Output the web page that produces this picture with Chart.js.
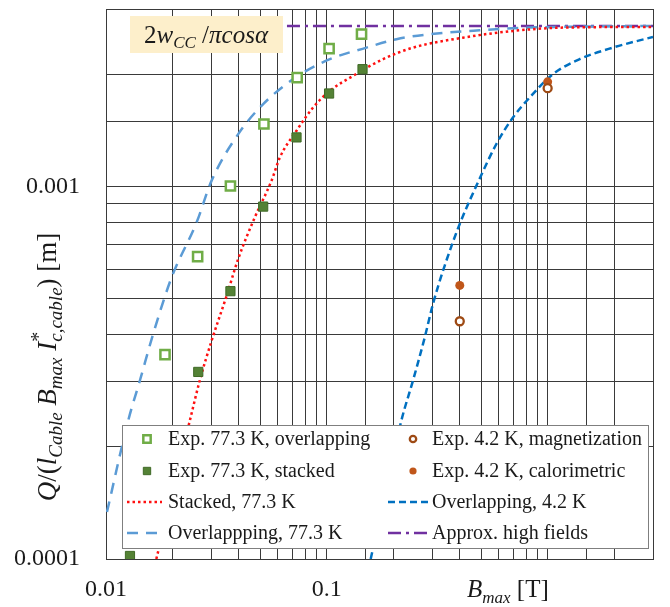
<!DOCTYPE html>
<html>
<head>
<meta charset="utf-8">
<script src="https://cdn.jsdelivr.net/npm/chart.js@4/dist/chart.umd.min.js"></script>
<style>
  html, body { margin: 0; padding: 0; background: #fff; }
  #wrap { width: 670px; height: 607px; }
</style>
</head>
<body>
<div id="wrap"><canvas id="chart" width="670" height="607"></canvas></div>
<script>
// Pérdidas normalizadas vs campo máximo, ejes log-log.

const SERIF = "'Liberation Serif', 'Times New Roman', serif";

// ── datos medidos ──
const expOverlapB  = [0.0185, 0.0260, 0.0366, 0.0519, 0.0734, 0.1024, 0.1436];
const expOverlapQ  = [0.000354, 0.000649, 0.001004, 0.001473, 0.001963, 0.002348, 0.002567];
const expStackedB  = [0.01284, 0.02617, 0.0366, 0.0515, 0.0729, 0.1024, 0.1451];
const expStackedQ  = [0.0001019, 0.000318, 0.000524, 0.000884, 0.001356, 0.001779, 0.002068];
const expMagB      = [0.4, 1.0];
const expMagQ      = [0.000435, 0.001839];
const expCalB      = [0.4, 1.0];
const expCalQ      = [0.000543, 0.001912];

// ── curvas de modelo ──
const stacked77B   = [0.0169, 0.0240, 0.0266, 0.0301, 0.0352, 0.0397, 0.0472, 0.0562, 0.0613, 0.0729,
                      0.0867, 0.1032, 0.1315, 0.1798, 0.2458, 0.4137, 0.6966, 1.173, 3.0];
const stacked77Q   = [0.0001, 0.000236, 0.000302, 0.000386, 0.00051, 0.00064, 0.000827, 0.001038, 0.001198, 0.001413,
                      0.001632, 0.001809, 0.001984, 0.0022, 0.002363, 0.002513, 0.002619, 0.002674, 0.002685];
const overlap77B   = [0.0101, 0.01262, 0.01425, 0.01637, 0.01983, 0.02573, 0.03008, 0.03969, 0.05149,
                      0.0729, 0.1032, 0.1512, 0.2068, 0.2924, 0.4924, 0.829, 3.0];
const overlap77Q   = [0.0001337, 0.0002359, 0.000302, 0.000403, 0.000571, 0.000802, 0.001038, 0.001384, 0.001666,
                      0.001972, 0.0022, 0.002363, 0.002489, 0.002567, 0.002631, 0.002674, 0.002702];
const overlap42B   = [0.158, 0.2178, 0.2458, 0.2777, 0.3027, 0.342, 0.3999, 0.4924, 0.586, 0.6966,
                      0.829, 1.057, 1.396, 1.975, 3.0];
const overlap42Q   = [0.0001, 0.000236, 0.000302, 0.000394, 0.000485, 0.000614, 0.000794, 0.001051, 0.001302, 0.001534,
                      0.001735, 0.002005, 0.0022, 0.002363, 0.002524];
const approxB      = [0.066, 3.0];
const approxQ      = [0.002702, 0.002702];

// ── ticks ──
const xTickValues = [0.01, 0.1];
const xTickLabels = ['0.01', '0.1'];
const yTickValues = [0.0001, 0.001];
const yTickLabels = ['0.0001', '0.001'];

const pts = (xs, ys) => xs.map((x, i) => ({ x, y: ys[i] }));

function tickLabel(values, labels) {
  return v => {
    const i = values.findIndex(t => Math.abs(t - v) / t < 1e-6);
    return i >= 0 ? labels[i] : '';
  };
}

const GRID = '#3a3a3a';

// texto con sub/superíndices: [texto, cursiva, tamaño, dy, noAvanza]
function drawRich(ctx, segs, x, y) {
  let cx = x;
  segs.forEach(([t, it, size, dy, hold]) => {
    ctx.font = `${it ? 'italic ' : ''}${size}px ${SERIF}`;
    ctx.fillText(t, cx, y + (dy || 0));
    if (!hold) cx += ctx.measureText(t).width;
  });
  return cx - x;
}
function richWidth(ctx, segs) {
  let w = 0;
  segs.forEach(([t, it, size, dy, hold]) => {
    ctx.font = `${it ? 'italic ' : ''}${size}px ${SERIF}`;
    if (!hold) w += ctx.measureText(t).width;
  });
  return w;
}

const Y_TITLE = [
  ['Q', true, 27], ['/(', false, 27], ['l', true, 27], ['Cable', true, 19, 6],
  [' ', false, 27], ['B', true, 27], ['max', true, 19, 6], [' ', false, 27],
  ['I', true, 27], ['*', false, 20, -11, true], ['c,cable', true, 19, 6],
  [')', false, 27], [' [m]', false, 27]
];
const X_TITLE = [['B', true, 25], ['max', true, 17, 6], [' [T]', false, 25]];
const ANNOT   = [['2', false, 25], ['w', true, 25], ['CC', true, 17, 5], [' /', false, 25], ['πcosα', true, 25]];

const extras = {
  id: 'extras',
  afterDatasetsDraw(chart) {
    const ctx = chart.ctx;
    ctx.save();
    // recuadro de la anotación
    ctx.fillStyle = '#FDEFCB';
    ctx.fillRect(130, 16, 153, 37);
    ctx.fillStyle = '#1a1a1a';
    ctx.textBaseline = 'alphabetic';
    ctx.textAlign = 'left';
    const wa = richWidth(ctx, ANNOT);
    drawRich(ctx, ANNOT, 206 - wa / 2, 43);

    // leyenda
    const L = { left: 122, top: 425, right: 648, bottom: 548 };
    ctx.fillStyle = '#fff';
    ctx.fillRect(L.left, L.top, L.right - L.left, L.bottom - L.top);
    ctx.strokeStyle = '#7f7f7f';
    ctx.lineWidth = 1;
    ctx.strokeRect(L.left + 0.5, L.top + 0.5, L.right - L.left, L.bottom - L.top);

    const rows = [439, 471, 502, 533];
    const cols = [{ sym: 147, l0: 127, l1: 162, txt: 168 }, { sym: 413, l0: 388, l1: 430, txt: 432 }];
    chart.data.datasets.forEach(ds => {
      const [c, r] = ds.leg;
      const col = cols[c], y = rows[r];
      if (ds.showLine) {
        ctx.save();
        ctx.strokeStyle = ds.borderColor;
        ctx.lineWidth = ds.borderWidth;
        ctx.setLineDash(ds.borderDash || []);
        ctx.beginPath();
        ctx.moveTo(col.l0, y);
        ctx.lineTo(col.l1, y);
        ctx.stroke();
        ctx.restore();
      } else {
        ctx.save();
        ctx.fillStyle = ds.backgroundColor;
        ctx.strokeStyle = ds.borderColor;
        ctx.lineWidth = ds.borderWidth;
        Chart.helpers.drawPoint(ctx, {
          pointStyle: ds.pointStyle, rotation: 0,
          radius: ds.pointRadius * 0.8, borderWidth: ds.borderWidth
        }, col.sym, y);
        ctx.restore();
      }
      ctx.fillStyle = '#1a1a1a';
      ctx.font = `20px ${SERIF}`;
      ctx.textBaseline = 'middle';
      ctx.fillText(ds.label, col.txt, y + 1);
    });
    ctx.restore();
  },
  afterDraw(chart) {
    const ctx = chart.ctx;
    ctx.save();
    ctx.fillStyle = '#1a1a1a';
    ctx.textBaseline = 'alphabetic';
    ctx.textAlign = 'left';
    drawRich(ctx, X_TITLE, 467, 597);

    ctx.translate(56, 367);
    ctx.rotate(-Math.PI / 2);
    const wy = richWidth(ctx, Y_TITLE);
    drawRich(ctx, Y_TITLE, -wy / 2, 0);
    ctx.restore();
  }
};

const lineBase = { showLine: true, pointRadius: 0, pointHoverRadius: 0, fill: false,
                   cubicInterpolationMode: 'monotone', order: 2 };

new Chart(document.getElementById('chart'), {
  type: 'scatter',
  data: {
    datasets: [
      {
        label: 'Exp. 77.3 K, overlapping', data: pts(expOverlapB, expOverlapQ),
        pointStyle: 'rect', pointRadius: 6.5, borderWidth: 2.5,
        borderColor: '#70AD47', backgroundColor: '#ffffff', order: 0, leg: [0, 0]
      },
      {
        label: 'Exp. 77.3 K, stacked', data: pts(expStackedB, expStackedQ),
        pointStyle: 'rect', pointRadius: 6.5, borderWidth: 1,
        borderColor: '#3f6a26', backgroundColor: '#548235', order: 0, leg: [0, 1]
      },
      {
        ...lineBase, label: 'Stacked, 77.3 K', data: pts(stacked77B, stacked77Q),
        borderColor: '#FF1010', borderWidth: 2.5, borderDash: [2.5, 3], leg: [0, 2]
      },
      {
        ...lineBase, label: 'Overlappping, 77.3 K', data: pts(overlap77B, overlap77Q),
        borderColor: '#5B9BD5', borderWidth: 2.5, borderDash: [11, 8], leg: [0, 3]
      },
      {
        label: 'Exp. 4.2 K, magnetization', data: pts(expMagB, expMagQ),
        pointStyle: 'circle', pointRadius: 4, borderWidth: 2.3,
        borderColor: '#9E4A14', backgroundColor: '#ffffff', order: 0, leg: [1, 0]
      },
      {
        label: 'Exp. 4.2 K, calorimetric', data: pts(expCalB, expCalQ),
        pointStyle: 'circle', pointRadius: 4.5, borderWidth: 0,
        borderColor: '#C0561A', backgroundColor: '#C0561A', order: 0, leg: [1, 1]
      },
      {
        ...lineBase, label: 'Overlapping, 4.2 K', data: pts(overlap42B, overlap42Q),
        borderColor: '#0070C0', borderWidth: 2.5, borderDash: [7, 4], leg: [1, 2]
      },
      {
        ...lineBase, label: 'Approx. high fields', data: pts(approxB, approxQ),
        borderColor: '#7030A0', borderWidth: 2.5, borderDash: [13, 5, 3, 5], leg: [1, 3]
      }
    ]
  },
  options: {
    responsive: false,
    animation: false,
    layout: { padding: { top: 7, right: 17, left: 0, bottom: 0 } },
    plugins: { legend: { display: false }, tooltip: { enabled: false } },
    scales: {
      x: {
        type: 'logarithmic', min: 0.01, max: 3,
        grid: { color: GRID, lineWidth: 1, drawTicks: false },
        border: { color: GRID, width: 1 },
        ticks: {
          autoSkip: false, maxRotation: 0, padding: 16, color: '#1a1a1a',
          font: { family: SERIF, size: 24 },
          callback: tickLabel(xTickValues, xTickLabels)
        },
        afterFit: s => { s.height = 48; s.paddingLeft = 0; s.paddingRight = 0; }
      },
      y: {
        type: 'logarithmic', min: 0.0001, max: 0.003,
        grid: { color: GRID, lineWidth: 1, drawTicks: false },
        border: { color: GRID, width: 1 },
        ticks: {
          autoSkip: false, padding: 26, color: '#1a1a1a',
          font: { family: SERIF, size: 24 },
          callback: tickLabel(yTickValues, yTickLabels)
        },
        afterFit: s => { s.width = 106; s.paddingTop = 0; s.paddingBottom = 0; }
      }
    }
  },
  plugins: [extras]
});
</script>
</body>
</html>
